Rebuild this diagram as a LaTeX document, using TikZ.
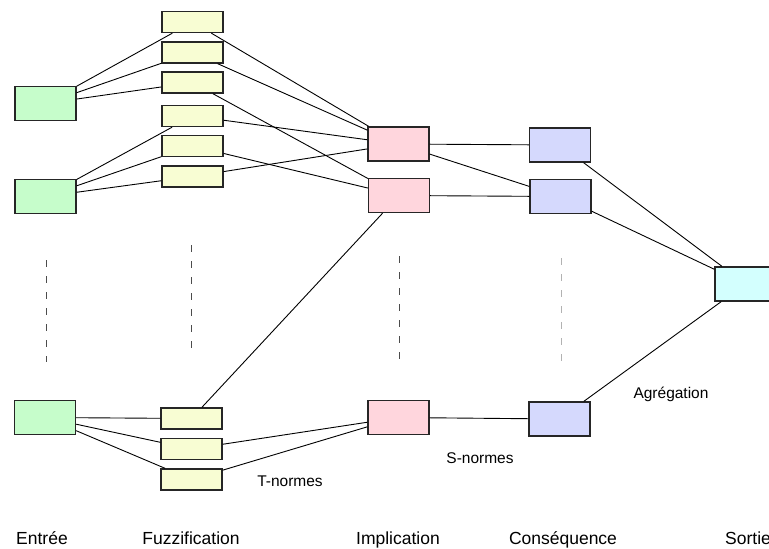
\documentclass[tikz,border=0pt]{standalone}
\usepackage{fontspec}
\setmainfont{Liberation Sans}
\definecolor{vert}{HTML}{C6FDCB}
\definecolor{jaune}{HTML}{F8FDD3}
\definecolor{rose}{HTML}{FFD6DD}
\definecolor{bleu}{HTML}{D5D9FD}
\definecolor{cyan2}{HTML}{D3FFFE}
\tikzset{
  boite/.style={draw=black!85, line width=1.3pt, rectangle, minimum width=61pt, minimum height=34pt, inner sep=0pt},
  petite/.style={boite, minimum height=21pt},
  lien/.style={line width=0.9pt},
  pointilles/.style={line width=0.8pt, dash pattern=on 7pt off 9pt},
  titre/.style={font=\fontsize{17.5}{20}\selectfont, anchor=base, inner sep=0pt},
  norme/.style={font=\fontsize{15.5}{18}\selectfont}
}
\begin{document}
\begin{tikzpicture}[x=1pt, y=-1pt]
\useasboundingbox (0,0) rectangle (769,549);
% entrees
\node[boite, fill=vert] (e1) at (45.5,103.5) {};
\node[boite, fill=vert] (e2) at (45.5,196.5) {};
\node[boite, fill=vert] (e3) at (45,417.5) {};
% fuzzification
\node[petite, fill=jaune] (f1) at (192.5,22) {};
\node[petite, fill=jaune] (f2) at (192.5,52.5) {};
\node[petite, fill=jaune] (f3) at (192.5,82.5) {};
\node[petite, fill=jaune] (f4) at (192.5,116) {};
\node[petite, fill=jaune] (f5) at (192.5,146) {};
\node[petite, fill=jaune] (f6) at (192.5,176.5) {};
\node[petite, fill=jaune] (f7) at (191.5,418.5) {};
\node[petite, fill=jaune] (f8) at (191.5,449) {};
\node[petite, fill=jaune] (f9) at (191.5,479.5) {};
% implication
\node[boite, fill=rose] (i1) at (398.5,144) {};
\node[boite, fill=rose] (i2) at (399,195.5) {};
\node[boite, fill=rose] (i3) at (398.5,417.5) {};
% consequence
\node[boite, fill=bleu] (c1) at (560,145) {};
\node[boite, fill=bleu] (c2) at (560.5,196.5) {};
\node[boite, fill=bleu] (c3) at (559.5,419) {};
% sortie
\node[boite, fill=cyan2] (s) at (745.5,284) {};
% liens
\draw[lien] (e1) -- (f1) (e1) -- (f2) (e1) -- (f3);
\draw[lien] (e2) -- (f4) (e2) -- (f5) (e2) -- (f6);
\draw[lien] (e3) -- (f7) (e3) -- (f8) (e3) -- (f9);
\draw[lien] (f1) -- (i1) (f2) -- (i1) (f4) -- (i1) (f6) -- (i1);
\draw[lien] (f3) -- (i2) (f5) -- (i2) (f7) -- (i2);
\draw[lien] (f8) -- (i3) (f9) -- (i3);
\draw[lien] (i1) -- (c1) (i1) -- (c2) (i2) -- (c2) (i3) -- (c3);
\draw[lien] (c1) -- (s) (c2) -- (s) (c3) -- (s);
% pointilles
\draw[pointilles, black!70] (46,260) -- (46,362);
\draw[pointilles, black!70] (191,245) -- (191,350);
\draw[pointilles, black!70] (399,256) -- (399,360);
\draw[pointilles, black!30] (561,258) -- (561,362);
% textes
\node[norme] (tn) at (290,481) {T-normes};
\node[norme] (sn) at (480,458) {S-normes};
\node[norme] (ag) at (671,394) {Agrégation};
\node[titre] (le) at (42,544.5) {Entrée};
\node[titre] (lf) at (191,544.5) {Fuzzification};
\node[titre] (li) at (398,544.5) {Implication};
\node[titre] (lc) at (563,544.5) {Conséquence};
\node[titre, anchor=base west] (ls) at (725,544.5) {Sortie};
\end{tikzpicture}
\end{document}
